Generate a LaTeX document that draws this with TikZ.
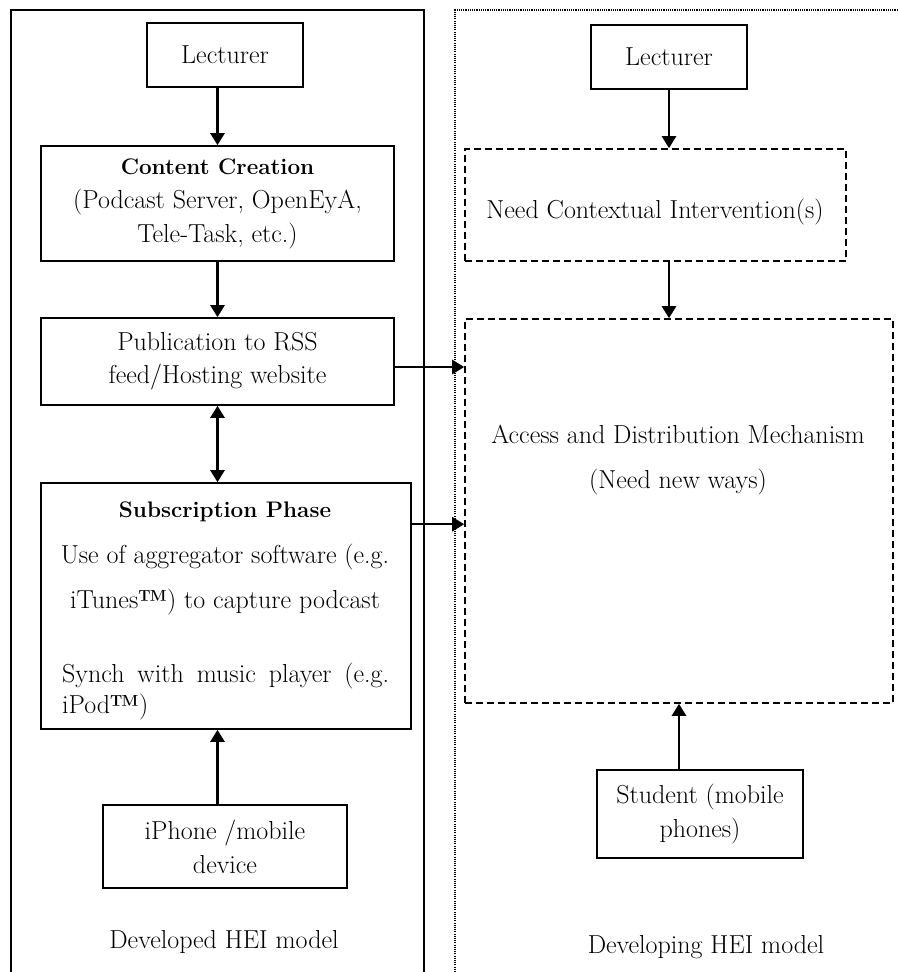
\documentclass[tikz,border=0pt]{standalone}
\usetikzlibrary{arrows.meta,calc}
\newcommand{\hd}[1]{{\fontsize{22.5}{30}\selectfont\textbf{#1}}}
\begin{document}
\begin{tikzpicture}[x=1pt,y=-1pt,
  font=\fontsize{26}{30}\selectfont,
  box/.style={draw, line width=1.6pt, inner sep=0pt, align=center},
  dbox/.style={box, dash pattern=on 7pt off 4pt},
  lbl/.style={inner sep=0pt},
  tip/.tip={Triangle[length=12pt,width=14pt]},
  arr/.style={line width=2.5pt, -tip},
  arrb/.style={line width=2.5pt, tip-tip}]
\useasboundingbox (0,0) rectangle (899,972);

% the two model frames
\draw[line width=1.6pt] (11,972) -- (11,10) -- (424,10) -- (424,972);
\draw[line width=1.6pt, dash pattern=on 1.1pt off 1.1pt] (455,972) -- (455,10) -- (899,10);

% developed model
\node[box, minimum width=156, minimum height=64] (lecL) at (225,55) {Lecturer};
\node[box, minimum width=353, minimum height=115, font=\fontsize{26}{34}\selectfont] (cc) at (217.5,203.5)
  {\hd{Content Creation}\\(Podcast Server, OpenEyA,\\Tele-Task, etc.)};
\node[box, minimum width=353, minimum height=87, font=\fontsize{26}{33}\selectfont] (pub) at (217.5,361.5)
  {Publication to RSS\\feed/Hosting website};
\node[box, minimum width=370, minimum height=246] (sub) at (226,606) {};
\node[lbl, anchor=base] (subT) at (225,517) {\hd{Subscription Phase}};
\node[lbl, anchor=base] (subA) at (225,563) {Use of aggregator software (e.g.};
\node[lbl, anchor=base] (subB) at (225,608) {iTunes\textbf{\texttrademark}) to capture podcast};
\node[lbl, anchor=base west] (subC) at (62,682) {\makebox[327pt][s]{Synch with music player (e.g.}};
\node[lbl, anchor=base west] (subD) at (62,713) {iPod\textbf{\texttrademark})};
\node[box, minimum width=244, minimum height=83, font=\fontsize{26}{34}\selectfont] (iph) at (225,846.5)
  {iPhone /mobile\\device};
\node[lbl, anchor=base] (devd) at (224,948) {Developed HEI model};

% developing model
\node[box, minimum width=156, minimum height=64] (lecR) at (669,57) {Lecturer};
\node[dbox, minimum width=381, minimum height=112] (nci) at (655.5,205) {};
\node[lbl, anchor=base] (nciT) at (655,218) {Need Contextual Intervention(s)};
\node[dbox, minimum width=428, minimum height=384] (acc) at (679,511) {};
\node[lbl, anchor=base] (accA) at (678,443) {Access and Distribution Mechanism};
\node[lbl, anchor=base] (accB) at (678,488) {(Need new ways)};
\node[box, minimum width=206, minimum height=88, font=\fontsize{26}{34}\selectfont] (stu) at (700,814)
  {Student (mobile\\phones)};
\node[lbl, anchor=base] (devg) at (706,953) {Developing HEI model};

% connectors
\draw[arr] (lecL.south -| cc.north) -- (cc.north);
\draw[arr] (cc.south) -- (pub.north);
\draw[arrb] (pub.south) -- (pub.south |- sub.north);
\draw[arr] (iph.north -| cc.south) -- (sub.south -| cc.south);
\draw[arr] ($(pub.east)+(0,5.5)$) coordinate (pubE) -- (pubE -| acc.west);
\draw[arr] ($(sub.north east)+(0,42)$) coordinate (subE) -- (subE -| acc.west);
\draw[arr] (lecR.south) -- (lecR.south |- nci.north);
\draw[arr] (lecR.south |- nci.south) -- (lecR.south |- acc.north);
\draw[arr] (acc.south |- stu.north) -- (acc.south);
\end{tikzpicture}
\end{document}
